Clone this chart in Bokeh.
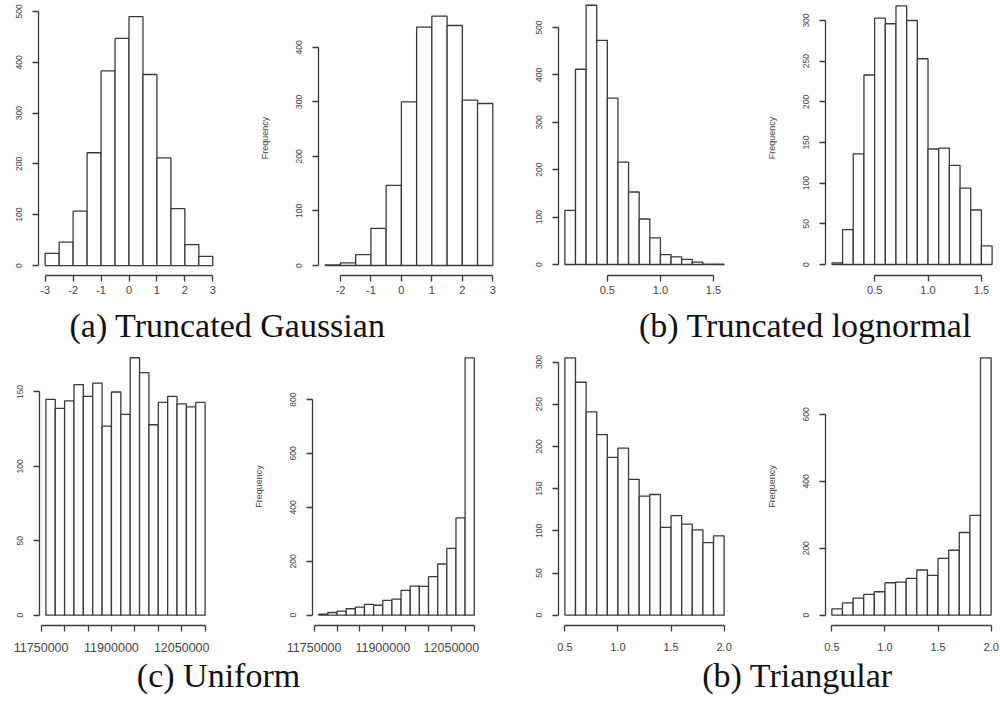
from bokeh.plotting import figure
from bokeh.layouts import column, row
from bokeh.models import Range1d, FixedTicker, Label
from bokeh.embed import file_html
from bokeh.resources import INLINE

# ---------------- data ----------------
gauss_breaks = [-3.0, -2.5, -2.0, -1.5, -1.0, -0.5, 0.0, 0.5, 1.0, 1.5, 2.0, 2.5, 3.0]
gauss_counts = [24, 46, 107, 222, 383, 447, 490, 376, 212, 112, 41, 18]

tgauss_breaks = [-2.5, -2.0, -1.5, -1.0, -0.5, 0.0, 0.5, 1.0, 1.5, 2.0, 2.5, 3.0]
tgauss_counts = [1, 5, 20, 68, 147, 300, 437, 457, 440, 303, 297]

lnorm_breaks = [0.1, 0.2, 0.3, 0.4, 0.5, 0.6, 0.7, 0.8, 0.9, 1.0, 1.1, 1.2, 1.3, 1.4, 1.5, 1.6]
lnorm_counts = [114, 412, 547, 473, 351, 216, 153, 96, 56, 21, 16, 11, 5, 1, 1]

tlnorm_breaks = [0.1, 0.2, 0.3, 0.4, 0.5, 0.6, 0.7, 0.8, 0.9, 1.0, 1.1, 1.2, 1.3, 1.4, 1.5, 1.6]
tlnorm_counts = [2, 43, 136, 233, 303, 296, 318, 300, 253, 142, 143, 122, 94, 67, 23]

unif_breaks = [11760000, 11780000, 11800000, 11820000, 11840000, 11860000, 11880000,
               11900000, 11920000, 11940000, 11960000, 11980000, 12000000, 12020000,
               12040000, 12060000, 12080000, 12100000]
unif_counts = [145, 139, 144, 155, 147, 156, 127, 150, 135, 173, 163, 128, 143, 147, 142, 140, 143]

tunif_breaks = unif_breaks
tunif_counts = [4, 10, 15, 24, 30, 40, 37, 55, 60, 92, 108, 107, 143, 190, 248, 361, 955]

tri_breaks = [0.5, 0.6, 0.7, 0.8, 0.9, 1.0, 1.1, 1.2, 1.3, 1.4, 1.5, 1.6, 1.7, 1.8, 1.9, 2.0]
tri_counts = [305, 276, 241, 214, 187, 198, 161, 141, 143, 104, 118, 108, 101, 86, 94]

ttri_breaks = tri_breaks
ttri_counts = [19, 37, 51, 62, 70, 97, 99, 110, 135, 119, 170, 194, 247, 298, 769]

# tick values and labels
gauss_xticks = [-3, -2, -1, 0, 1, 2, 3]
tgauss_xticks = [-2, -1, 0, 1, 2, 3]
lnorm_xticks = [0.5, 1.0, 1.5]
unif_xticks = [11750000, 11800000, 11850000, 11900000, 11950000, 12000000, 12050000, 12100000]
unif_xlabels = ["11750000", "", "", "11900000", "", "", "12050000", ""]
tri_xticks = [0.5, 1.0, 1.5, 2.0]

gauss_yticks = [0, 100, 200, 300, 400, 500]
tgauss_yticks = [0, 100, 200, 300, 400]
lnorm_yticks = [0, 100, 200, 300, 400, 500]
tlnorm_yticks = [0, 50, 100, 150, 200, 250, 300]
unif_yticks = [0, 50, 100, 150]
tunif_yticks = [0, 200, 400, 600, 800]
tri_yticks = [0, 50, 100, 150, 200, 250, 300]
ttri_yticks = [0, 200, 400, 600]

captions = ["(a) Truncated Gaussian", "(b) Truncated lognormal", "(c) Uniform", "(b) Triangular"]

# ---------------- styling ----------------
INK = "#3a3a3a"
TXT = "#444444"
SANS = "Liberation Sans"


def fmt(v):
    if isinstance(v, float):
        return "%.1f" % v
    return str(v)


def panel(breaks, counts, xticks, yticks, xr, yr, width, height, mb, ylabel=False,
          xlabels=None, xfont="11px", xstand=4):
    p = figure(width=width, height=height, x_range=Range1d(*xr), y_range=Range1d(*yr),
               output_backend="svg", toolbar_location=None,
               min_border_left=mb[0], min_border_right=mb[1],
               min_border_top=mb[2], min_border_bottom=mb[3])
    p.outline_line_color = None
    p.grid.visible = False
    p.background_fill_color = "white"
    p.border_fill_color = "white"
    p.quad(left=breaks[:-1], right=breaks[1:], bottom=0, top=counts,
           fill_color="white", line_color=INK, line_width=1.3)
    xa = p.xaxis[0]
    xa.ticker = FixedTicker(ticks=xticks)
    labels = xlabels if xlabels is not None else [fmt(t) for t in xticks]
    xa.major_label_overrides = {t: l for t, l in zip(xticks, labels)}
    xa.bounds = (xticks[0], xticks[-1])
    ya = p.yaxis[0]
    ya.ticker = FixedTicker(ticks=yticks)
    ya.major_label_overrides = {t: str(t) for t in yticks}
    ya.bounds = (yticks[0], yticks[-1])
    ya.major_label_orientation = "vertical"
    for a in (xa, ya):
        a.axis_line_color = INK
        a.axis_line_width = 1.3
        a.major_tick_line_color = INK
        a.major_tick_line_width = 1.3
        a.major_tick_out = 6
        a.major_tick_in = 0
        a.minor_tick_line_color = None
        a.major_label_text_color = TXT
        a.major_label_text_font = SANS
    xa.major_label_text_font_size = xfont
    xa.major_label_standoff = xstand
    ya.major_label_text_font_size = "8.5px"
    ya.major_label_standoff = 10
    if ylabel:
        ya.axis_label = "Frequency"
        ya.axis_label_text_font = SANS
        ya.axis_label_text_font_style = "normal"
        ya.axis_label_text_font_size = "9px"
        ya.axis_label_text_color = TXT
        ya.axis_label_standoff = 24
    return p


# top row (height 300): frames start at the top edge
p1 = panel(gauss_breaks, gauss_counts, gauss_xticks, gauss_yticks,
           (-3.24, 3.24), (-19.6, 521.6), 250, 300, (38, 31, 0, 24))
p2 = panel(tgauss_breaks, tgauss_counts, tgauss_xticks, tgauss_yticks,
           (-2.72, 3.22), (-18.3, 485.8), 250, 300, (68, 1, 0, 24), ylabel=True)
p3 = panel(lnorm_breaks, lnorm_counts, lnorm_xticks, lnorm_yticks,
           (0.04, 1.66), (-23.2, 557.0), 250, 300, (58, 20, 0, 25))
p4 = panel(tlnorm_breaks, tlnorm_counts, lnorm_xticks, tlnorm_yticks,
           (0.04, 1.66), (-13.5, 324.6), 250, 300, (75, 2, 0, 25), ylabel=True)

# bottom row (height 308)
p5 = panel(unif_breaks, unif_counts, unif_xticks, unif_yticks,
           (11746400, 12113600), (-6.92, 179.9), 250, 308, (39, 39, 0, 30),
           xlabels=unif_xlabels, xfont="12.5px", xstand=11)
p6 = panel(tunif_breaks, tunif_counts, unif_xticks, tunif_yticks,
           (11746400, 12113600), (-38.2, 993.2), 250, 308, (57, 20, 0, 30), ylabel=True,
           xlabels=unif_xlabels, xfont="12.5px", xstand=11)
p7 = panel(tri_breaks, tri_counts, tri_xticks, tri_yticks,
           (0.44, 2.06), (-12.2, 317.2), 250, 308, (58, 20, 0, 30), xstand=11)
p8 = panel(ttri_breaks, ttri_counts, tri_xticks, ttri_yticks,
           (0.44, 2.06), (-30.8, 799.8), 250, 308, (75, 3, 0, 30), ylabel=True, xstand=11)


def caption_fig(height, items, ymid):
    c = figure(width=1000, height=height, x_range=Range1d(0, 1000), y_range=Range1d(0, height),
               output_backend="svg", toolbar_location=None, min_border=0,
               x_axis_location=None, y_axis_location=None)
    c.outline_line_color = None
    c.grid.visible = False
    for txt, cx in items:
        c.add_layout(Label(x=cx, y=ymid, text=txt, text_align="center",
                           text_baseline="middle", text_font="Liberation Serif",
                           text_font_size="34px", text_color="#111111"))
    return c


cap1 = caption_fig(47, [(captions[0], 227), (captions[1], 805)], 22)
cap2 = caption_fig(47, [(captions[2], 218), (captions[3], 797)], 27)

layout = column(row(p1, p2, p3, p4), cap1, row(p5, p6, p7, p8), cap2)

open("out.html", "w").write(file_html(layout, INLINE))
